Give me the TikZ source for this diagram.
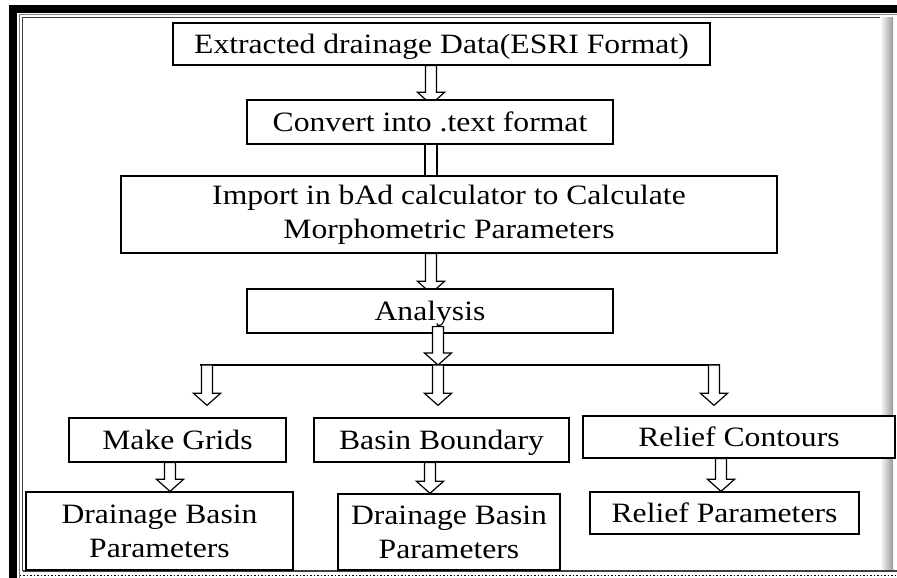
\documentclass[tikz,border=0pt]{standalone}
\usepackage{fontspec}
\setmainfont{Liberation Serif}[FakeStretch=1.13]
\usetikzlibrary{calc,backgrounds}

\def\shaftw{5.5pt}  % half width of the shaft
\def\headw{13.5pt}  % half width of the head
\def\headh{12pt}    % height of the head

% hollow block arrow: x of the shaft, from, to
\newcommand{\fatarrow}[3]{%
  \draw[arrowline] let \p1=(#2), \p2=(#3) in
    (#1pt-\shaftw,\y1) -- (#1pt-\shaftw,\y2+\headh) -- (#1pt-\headw,\y2+\headh)
    -- (#1pt,\y2) -- (#1pt+\headw,\y2+\headh) -- (#1pt+\shaftw,\y2+\headh)
    -- (#1pt+\shaftw,\y1) -- cycle;
}

\begin{document}
\begin{tikzpicture}[x=1pt, y=1pt,
    box/.style={draw, fill=white, line width=1.3pt, inner sep=0pt,
                font=\fontsize{28}{34}\selectfont, align=center},
    oneline/.style={text height=19pt, text depth=0pt},
    arrowline/.style={draw, fill=white, line width=1.2pt, line join=miter},
    busline/.style={line width=1.2pt}]

    \useasboundingbox (0,0) rectangle (897,578);

    % Frame
    \fill[black] (9,0) rectangle (17,573);
    \fill[black] (9,565) rectangle (897,573);
    \draw[gray, line width=1pt] (19.5,0) -- (19.5,563) -- (897,563);
    \draw[black!75, line width=1.5pt] (22.5,7) -- (22.5,560.5) -- (886,560.5);
    \shade[left color=white, right color=gray!80] (880,8) rectangle (893,560.5);
    \draw[black!75, line width=2pt] (22.5,7) -- (897,7);
    \draw[black, dotted, line width=1.5pt] (19.5,2.5) -- (897,2.5);

    % Boxes
    \node[box, oneline, minimum width=537, minimum height=42] (ext)  at (441.5,534) {Extracted drainage Data(ESRI Format)};
    \node[box, oneline, minimum width=366, minimum height=44] (conv) at (430,456)   {Convert into .text format};
    \node[box, minimum width=656, minimum height=77]          (imp)  at (449,363.5) {Import in bAd calculator to Calculate\\Morphometric Parameters};
    \node[box, oneline, minimum width=366, minimum height=44] (ana)  at (430,267)   {Analysis};

    \node[box, oneline, minimum width=217, minimum height=44] (grid) at (177.5,138) {Make Grids};
    \node[box, oneline, minimum width=255, minimum height=44] (bnd)  at (441.5,138) {Basin Boundary};
    \node[box, oneline, minimum width=312, minimum height=42] (rcon) at (739,141)   {Relief Contours};

    \node[box, minimum width=267, minimum height=78]          (dbl)  at (159.5,47)  {Drainage Basin\\Parameters};
    \node[box, minimum width=222, minimum height=76]          (dbm)  at (449,46)    {Drainage Basin\\Parameters};
    \node[box, oneline, minimum width=269, minimum height=42] (rpar) at (724.5,65)  {Relief Parameters};

    % Arrows between the upper boxes
    \begin{scope}[on background layer]
        \fatarrow{431}{ext.south}{$(conv.north)+(0,-5)$}
        \fatarrow{431}{imp.south}{$(ana.north)+(0,-5)$}
    \end{scope}
    \draw[arrowline] ($(conv.south)+(-5,0)$) rectangle ($(conv.south |- imp.north)+(7,0)$);

    % Bus
    \coordinate (busL) at (200,213);
    \coordinate (busR) at (720,213);
    \draw[busline] (busL) -- (busR);
    \fatarrow{438}{$(ana.south)+(0,7)$}{busL}

    \fatarrow{207}{busL}{$(grid.north)+(0,12)$}
    \fatarrow{438}{busL}{$(bnd.north)+(0,12)$}
    \fatarrow{714}{busR}{$(rcon.north)+(0,10)$}

    % Arrows to the parameters
    \fatarrow{170}{grid.south}{dbl.north}
    \fatarrow{430}{bnd.south}{dbm.north}
    \fatarrow{721}{rcon.south}{rpar.north}

\end{tikzpicture}
\end{document}
